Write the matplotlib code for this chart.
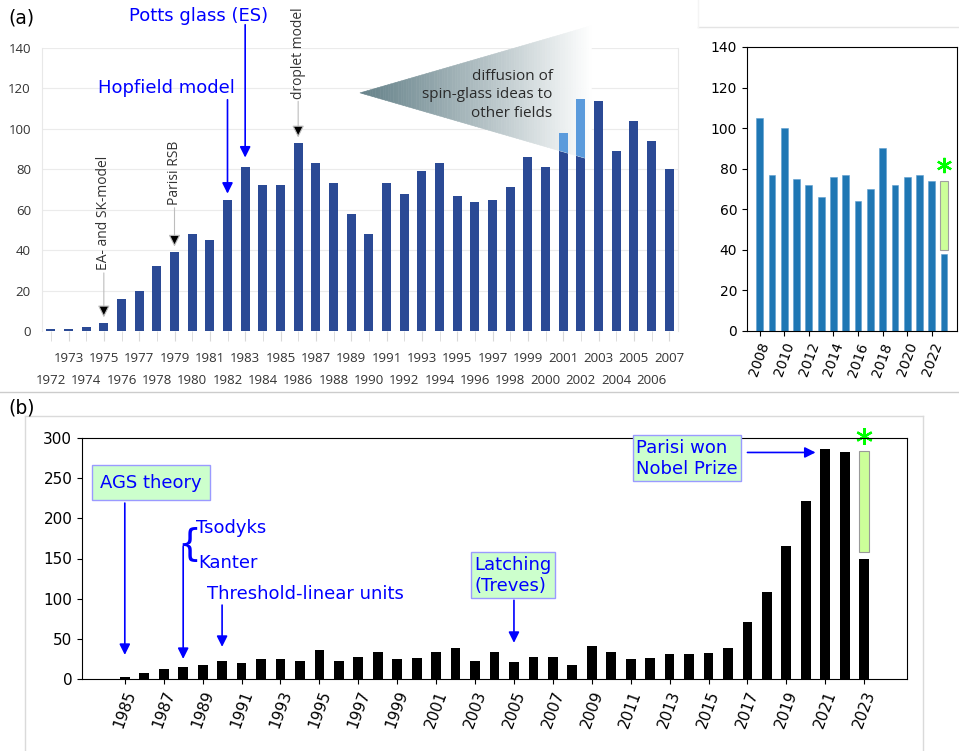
import matplotlib
matplotlib.use('Agg')
import matplotlib.pyplot as plt
import numpy as np
from matplotlib.lines import Line2D
from matplotlib.patches import Polygon
from matplotlib.collections import PolyCollection

# ---- data ----
# (a) left: spin-glass papers per year, 1972-2007
years_a = list(range(1972, 2008))
counts_a = [1, 1, 2, 4, 16, 20, 32, 39, 48, 45, 65, 81, 72, 72, 93, 83, 73, 58,
            48, 73, 68, 79, 83, 67, 64, 65, 71, 86, 81, 98, 115, 114, 89, 104, 94, 80]
diffusion_years = [2001, 2002]

# (a) right: 2008-2023
years_b = list(range(2008, 2024))
counts_b = [105, 77, 100, 75, 72, 66, 76, 77, 64, 70, 90, 72, 76, 77, 74, 38]
estimate_b = (40, 74)   # projected rest of 2023

# (b): 1985-2023
years_c = list(range(1985, 2024))
counts_c = [3, 7, 13, 15, 18, 22, 20, 25, 25, 22, 36, 22, 27, 34, 25, 26, 33, 39, 23,
            33, 21, 27, 28, 17, 41, 34, 25, 26, 31, 31, 32, 38, 71, 108, 165, 221, 286, 282, 150]
estimate_c = (158, 284)

W, H = 959, 751
fig = plt.figure(figsize=(W / 100, H / 100), dpi=100)


def px_axes(x0, y0, x1, y1):
    # axes placed by pixel box (top-left origin)
    return fig.add_axes([x0 / W, 1 - y1 / H, (x1 - x0) / W, (y1 - y0) / H])


dark_blue = '#2b4a95'
light_blue = '#5b9bdc'
grey_txt = '#333333'
est_green = '#ccff99'

# ================= panel (a) left =================
ax1 = px_axes(42, 48, 678, 331)
ax1.bar(years_a, counts_a, width=0.52, color=dark_blue, zorder=2)
ax1.set_xlim(1971.5, 2007.5)
ax1.set_ylim(0, 140)
ax1.set_yticks(range(0, 141, 20))
ax1.grid(axis='y', color='#ebebeb', lw=0.8)
ax1.set_axisbelow(True)
for s in ['top', 'bottom']:
    ax1.spines[s].set_visible(False)
for s in ['left', 'right']:
    ax1.spines[s].set_color('#e8e8e8')
ax1.set_xticks(years_a[1::2])
ax1.set_xticklabels([str(y) for y in years_a[1::2]])
ax1.set_xticks(years_a[0::2], minor=True)
ax1.set_xticklabels([str(y) for y in years_a[0::2]], minor=True)
ax1.tick_params(axis='y', length=0, pad=8, labelsize=9.5, labelcolor=grey_txt,
                labelfontfamily='Open Sans')
ax1.tick_params(axis='x', which='major', length=7, color='#d8d8d8', pad=8,
                labelsize=9.5, labelcolor=grey_txt, labelfontfamily='Open Sans')
ax1.tick_params(axis='x', which='minor', length=7, color='#d8d8d8', pad=24,
                labelsize=9.5, labelcolor=grey_txt, labelfontfamily='Open Sans')

# gradient triangle "diffusion of spin-glass ideas"
tip = (1989.5, 117.8)
rx, ry_top, ry_bot = 2002.6, 151.0, 84.6
n = 90
xs = np.linspace(tip[0], rx, n + 1)
top = tip[1] + (ry_top - tip[1]) * (xs - tip[0]) / (rx - tip[0])
bot = tip[1] + (ry_bot - tip[1]) * (xs - tip[0]) / (rx - tip[0])
c0 = np.array([0.40, 0.51, 0.54])
strips, cols = [], []
for i in range(n):
    strips.append([(xs[i], top[i]), (xs[i + 1], top[i + 1]),
                   (xs[i + 1], bot[i + 1]), (xs[i], bot[i])])
    t = ((i + 0.5) / n) ** 1.1
    cols.append(tuple((1 - t) * c0 + t * np.ones(3)))
pc = PolyCollection(strips, facecolors=cols, edgecolors=cols, linewidths=0.4,
                    zorder=3, clip_on=False)
ax1.add_collection(pc)
tri = Polygon([tip, (rx, ry_top), (rx, ry_bot)], closed=True, transform=ax1.transData)
hl = ax1.bar(diffusion_years, [counts_a[years_a.index(y)] for y in diffusion_years],
             width=0.52, color=light_blue, zorder=4)
for p in hl:
    p.set_clip_path(tri)
ax1.text(2000.4, 116.8, 'diffusion of\nspin-glass ideas to\nother fields', ha='right',
         va='center', multialignment='right', fontsize=11, family='Open Sans',
         color='#2a2a2a', linespacing=1.3, zorder=5)

# grey rotated labels
grey_notes = [('EA- and SK-model', 1975, 38), ('Parisi RSB', 1979, 34), ('droplet model', 1986, 32)]
for label, yr, off in grey_notes:
    ax1.annotate(label, xy=(yr, counts_a[years_a.index(yr)]), xytext=(0, off),
                 textcoords='offset points', rotation=90, ha='center', va='bottom',
                 fontsize=10, family='Open Sans', color=grey_txt,
                 arrowprops=dict(arrowstyle='-|>', fc='black', ec='#bdbdbd', lw=0.8,
                                 mutation_scale=18, shrinkA=0, shrinkB=4))

# blue labels
ax1.text(1980.36, 155.9, 'Potts glass (ES)', ha='center', va='center', color='blue', fontsize=13)
ax1.annotate('', xy=(1983, 81), xytext=(1983, 151.5),
             arrowprops=dict(arrowstyle='-|>', color='blue', lw=1.2, mutation_scale=16,
                             shrinkA=0, shrinkB=7))
ax1.text(1978.52, 120.3, 'Hopfield model', ha='center', va='center', color='blue', fontsize=13)
ax1.annotate('', xy=(1982, 65), xytext=(1982, 114.4),
             arrowprops=dict(arrowstyle='-|>', color='blue', lw=1.2, mutation_scale=16,
                             shrinkA=0, shrinkB=4.3))

# ================= panel (a) right =================
ax2 = px_axes(747, 47, 957, 331)
ax2.bar(years_b, counts_b, width=0.55, color='#1f77b4', edgecolor='#5e9fd0', lw=0.4)
ax2.bar(2023, estimate_b[1] - estimate_b[0], bottom=estimate_b[0], width=0.6,
        color=est_green, edgecolor='#a0a0a0', lw=0.8)
ax2.plot(2023, 82, marker=(6, 2, 0), ms=11, mew=1.6, color='lime', clip_on=False)
ax2.set_xlim(2006.97, 2024.05)
ax2.set_ylim(0, 140)
ax2.set_yticks(range(0, 141, 20))
ax2.set_xticks(range(2008, 2023, 2))
ax2.tick_params(labelsize=10)
ax2.tick_params(axis='x', labelrotation=70)

# ================= panel (b) =================
ax3 = px_axes(82, 438, 907, 679)
ax3.bar(years_c, counts_c, width=0.5, color='black')
ax3.bar(2023, estimate_c[1] - estimate_c[0], bottom=estimate_c[0], width=0.5,
        color=est_green, edgecolor='#999999', lw=0.8)
ax3.plot(2023, 302, marker=(6, 2, 0), ms=12, mew=1.6, color='lime', clip_on=False)
ax3.set_xlim(1982.8, 2025.2)
ax3.set_ylim(0, 300)
ax3.set_yticks(range(0, 301, 50))
ax3.set_xticks(range(1985, 2024, 2))
ax3.tick_params(labelsize=11)
ax3.tick_params(axis='x', labelrotation=70)

box = dict(boxstyle='square,pad=0.45', fc='#ccffcc', ec='#9a9aff', lw=1)
box2 = dict(boxstyle='square,pad=0.2', fc='#ccffcc', ec='#9a9aff', lw=1)
arr = dict(arrowstyle='-|>', color='blue', lw=1.2, mutation_scale=16, shrinkA=0, shrinkB=0)

ax3.text(1986.36, 244.6, 'AGS theory', ha='center', va='center', color='blue', fontsize=13, bbox=box)
ax3.annotate('', xy=(1985, 30), xytext=(1985, 219), arrowprops=arr)

ax3.text(1988.65, 188.4, 'Tsodyks', ha='left', va='center', color='blue', fontsize=13)
ax3.text(1988.8, 144.8, 'Kanter', ha='left', va='center', color='blue', fontsize=13)
ax3.text(1988.32, 166.9, '{', ha='center', va='center', color='blue', fontsize=27)
ax3.annotate('', xy=(1988, 25), xytext=(1988, 165), arrowprops=arr)

ax3.text(1989.21, 105.9, 'Threshold-linear units', ha='left', va='center', color='blue', fontsize=13)
ax3.annotate('', xy=(1990, 40), xytext=(1990, 92), arrowprops=arr)

ax3.text(2004.96, 129.1, 'Latching\n(Treves)', ha='center', va='center', multialignment='left',
         color='blue', fontsize=13, bbox=box2)
ax3.annotate('', xy=(2005, 45), xytext=(2005, 98), arrowprops=arr)

ax3.text(2013.89, 274.8, 'Parisi won\nNobel Prize', ha='center', va='center', multialignment='left',
         color='blue', fontsize=13, bbox=box2)
ax3.annotate('', xy=(2020.5, 282), xytext=(2017.0, 282), arrowprops=arr)

# ================= figure decorations =================
def fig_line(x0, y0, x1, y1, color, lw=1.0):
    fig.add_artist(Line2D([x0 / W, x1 / W], [1 - y0 / H, 1 - y1 / H],
                          transform=fig.transFigure, color=color, lw=lw))

fig_line(0, 391.5, W, 391.5, '#cccccc')
fig_line(25, 416, 923, 416, '#dadada')
fig_line(25, 416, 25, H, '#dadada')
fig_line(923, 416, 923, H, '#dadada')
fig_line(698, 27, W, 27, '#e4e4e4')
fig_line(698, 0, 698, 27, '#f4f4f4')

fig.text(8 / W, 1 - 18 / H, '(a)', ha='left', va='center', fontsize=13.5)
fig.text(8 / W, 1 - 408 / H, '(b)', ha='left', va='center', fontsize=13.5)

fig.savefig('out.png', dpi=100)
